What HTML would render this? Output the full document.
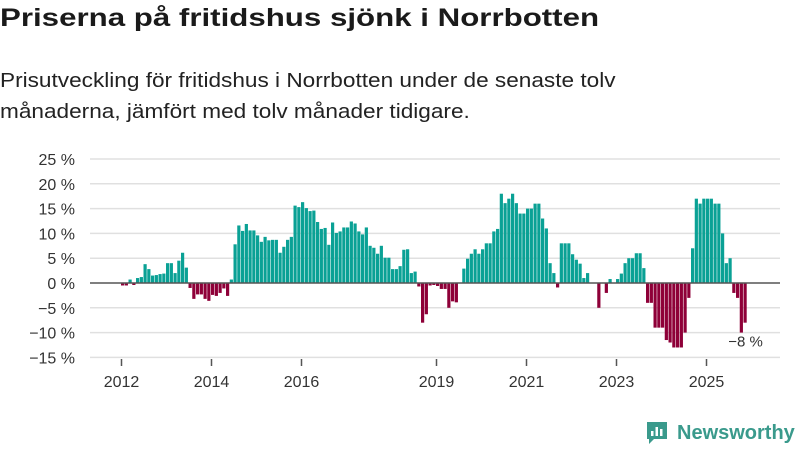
<!DOCTYPE html>
<html><head><meta charset="utf-8">
<style>
body{margin:0;background:#fff;width:800px;height:450px;overflow:hidden;font-family:"Liberation Sans",sans-serif;color:#222}
h1{position:absolute;left:0;top:4px;margin:0;font-size:25px;font-weight:bold;color:#1a1a1a;white-space:nowrap;transform:scaleX(1.25);transform-origin:0 0}
.sub{position:absolute;left:0;top:66px;margin:0;font-size:20px;line-height:31px;color:#222;white-space:nowrap;transform:scaleX(1.13);transform-origin:0 0}
svg{position:absolute;left:0;top:0}
</style></head><body>
<h1>Priserna på fritidshus sjönk i Norrbotten</h1>
<p class="sub">Prisutveckling för fritidshus i Norrbotten under de senaste tolv<br>månaderna, jämfört med tolv månader tidigare.</p>
<svg id="chart" width="800" height="450"></svg>
<script>
// monthly values from Jan 2012 (index 0); null = missing
const values = [-0.5,-0.5,0.7,-0.4,1,1.2,3.8,2.8,1.5,1.6,1.8,1.9,4,4,2,4.5,6.1,3.1,
-1,-3.2,-2.3,-2.3,-3.2,-3.6,-2.4,-2.6,-2,-1.1,-2.6,
0.7,7.8,11.6,10.5,11.9,10.6,10.6,9.6,8.3,9.3,8.6,8.7,8.7,6.1,7.3,8.7,9.3,15.6,15.3,16.3,15.1,14.5,14.6,12.3,10.9,11.1,7.7,12.2,10.1,10.4,11.2,11.2,12.4,12,10.4,9.8,11.2,7.5,7.1,5.9,7.5,5.1,5.1,2.8,2.8,3.4,6.7,6.8,2,2.3,
-0.7,-8,-6.3,-0.5,-0.4,-0.6,-1.2,-1.2,-5,-3.7,-3.9,null,
2.9,4.9,5.9,6.8,5.9,6.8,8,8,10.4,10.9,18,16.1,17,18,16.1,14,14,15,15,16,16,13,11,4,2,-0.9,8,8,8,5.8,4.7,3.9,1,2,
null,null,-5,null,-2,0.8,null,0.8,1.9,4,5,5,6,6,3,-4,-4,-9,-9,-9,-11.5,-12,-13,-13,-13,-10,-3,
7,17,16,17,17,17,16,16,10,4,5,-2,-3,-10,-8];
const yTicks = [25,20,15,10,5,0,-5,-10,-15];
const yTickLabels = ["25 %","20 %","15 %","10 %","5 %","0 %","−5 %","−10 %","−15 %"];
const xTickIdx = [0,24,48,84,108,132,156];
const xTickLabels = ["2012","2014","2016","2019","2021","2023","2025"];
const lastLabel = "−8 %";

const NS="http://www.w3.org/2000/svg";
const svg=document.getElementById('chart');
const x=i=>121+i*3.75;
const y=v=>283-v*4.96;
function mk(tag,attrs,parent){const e=document.createElementNS(NS,tag);for(const k in attrs)e.setAttribute(k,attrs[k]);(parent||svg).appendChild(e);return e;}

yTicks.forEach((t,i)=>{
  if(t!==0){const g=mk('line',{x1:90,x2:780,y1:y(t),y2:y(t),stroke:'#e0e0e0','stroke-width':1.5});
  
  }
  const tx=mk('text',{x:75,y:y(t)+6,'text-anchor':'end','font-size':16,fill:'#333','font-family':'Liberation Sans, sans-serif'});
  tx.textContent=yTickLabels[i];
  
  
});
values.forEach((v,i)=>{
  if(v===null)return;
  const r=mk('rect',{x:x(i),width:3.2,y:v>=0?y(v):y(0),height:Math.abs(y(v)-y(0)),fill:v>=0?'#0aa195':'#8e0038'});
  
  
});
const zl=mk('line',{x1:90,x2:780,y1:y(0),y2:y(0),stroke:'#555','stroke-width':1.5});


xTickIdx.forEach((idx,i)=>{
  const tk=mk('line',{x1:x(idx)+0.5,x2:x(idx)+0.5,y1:359,y2:366,stroke:'#555','stroke-width':1.5});
  
  
  const tx=mk('text',{x:x(idx)+0.5,y:387,'text-anchor':'middle','font-size':16,fill:'#333','font-family':'Liberation Sans, sans-serif'});
  tx.textContent=xTickLabels[i];
  
  
});
const lastI=values.length-1;
const ll=mk('text',{x:x(lastI)+2,y:y(values[lastI])+24,'text-anchor':'middle','font-size':15,fill:'#333','font-family':'Liberation Sans, sans-serif'});
ll.textContent=lastLabel;


</script>
<div style="position:absolute;left:645px;top:420px;height:26px;display:flex;align-items:center">
<svg width="24" height="26" viewBox="0 0 24 26" style="position:static"><path d="M2 2h20v17H9l-5 5v-5H2z" fill="#3a9a8c"/><rect x="6" y="11" width="2.5" height="5" fill="#fff"/><rect x="10.5" y="7" width="2.5" height="9" fill="#fff"/><rect x="15" y="9" width="2.5" height="7" fill="#fff"/></svg>
<span style="margin-left:8px;font-size:20px;font-weight:bold;color:#3a9a8c">Newsworthy</span>
</div>
</body></html>
